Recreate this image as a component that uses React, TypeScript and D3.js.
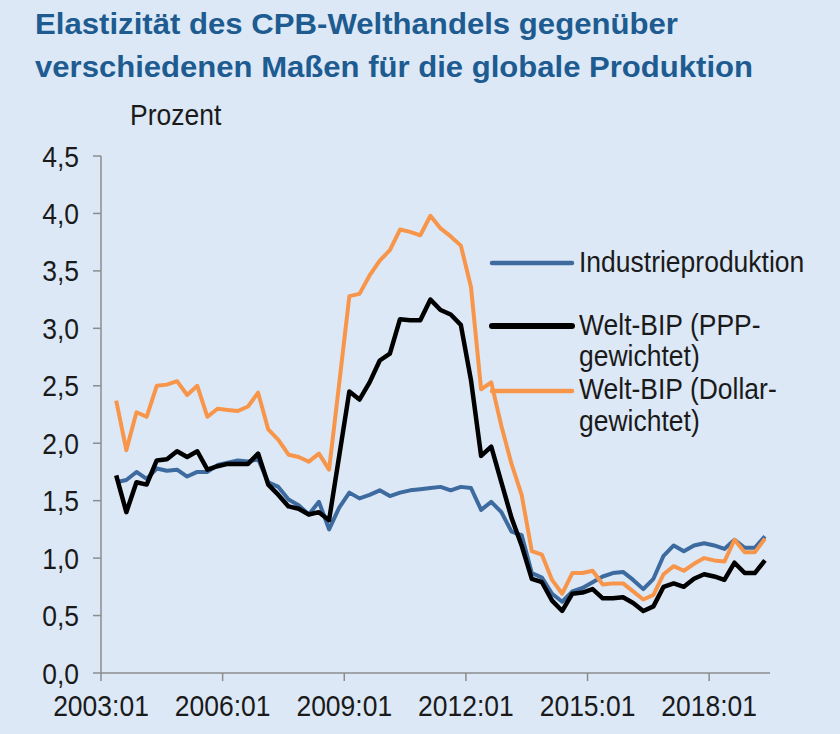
import React from "react";
import * as d3 from "d3";

const startYear = 2003;
const startQuarter = 2; // first observation: 2003 Q2
const industrie = [1.66, 1.68, 1.75, 1.69, 1.78, 1.76, 1.77, 1.71, 1.75, 1.75, 1.81, 1.83, 1.85, 1.84, 1.86, 1.66, 1.62, 1.51, 1.46, 1.38, 1.49, 1.25, 1.44, 1.57, 1.52, 1.55, 1.59, 1.54, 1.57, 1.59, 1.60, 1.61, 1.62, 1.59, 1.62, 1.61, 1.42, 1.49, 1.40, 1.23, 1.20, 0.87, 0.83, 0.69, 0.62, 0.71, 0.74, 0.79, 0.84, 0.87, 0.88, 0.81, 0.73, 0.82, 1.02, 1.11, 1.06, 1.11, 1.13, 1.11, 1.08, 1.16, 1.09, 1.09, 1.19];
const bipPPP = [1.72, 1.40, 1.66, 1.64, 1.85, 1.86, 1.93, 1.88, 1.93, 1.77, 1.80, 1.82, 1.82, 1.82, 1.91, 1.64, 1.55, 1.45, 1.43, 1.38, 1.40, 1.33, 1.89, 2.45, 2.38, 2.53, 2.72, 2.78, 3.08, 3.07, 3.07, 3.25, 3.16, 3.12, 3.03, 2.55, 1.89, 1.97, 1.66, 1.35, 1.11, 0.82, 0.79, 0.63, 0.54, 0.69, 0.70, 0.73, 0.65, 0.65, 0.66, 0.61, 0.54, 0.58, 0.75, 0.78, 0.75, 0.82, 0.86, 0.84, 0.81, 0.96, 0.87, 0.87, 0.98];
const bipDollar = [2.37, 1.94, 2.27, 2.23, 2.50, 2.51, 2.54, 2.42, 2.50, 2.23, 2.30, 2.29, 2.28, 2.32, 2.44, 2.12, 2.03, 1.90, 1.88, 1.84, 1.91, 1.77, 2.52, 3.28, 3.30, 3.46, 3.59, 3.68, 3.86, 3.84, 3.81, 3.98, 3.87, 3.80, 3.72, 3.36, 2.47, 2.53, 2.15, 1.82, 1.55, 1.06, 1.03, 0.81, 0.69, 0.87, 0.87, 0.89, 0.77, 0.78, 0.78, 0.71, 0.64, 0.68, 0.86, 0.93, 0.89, 0.95, 1.00, 0.98, 0.97, 1.16, 1.05, 1.05, 1.17];
const xTickYears = [2003, 2006, 2009, 2012, 2015, 2018];
const xTickLabels = ["2003:01", "2006:01", "2009:01", "2012:01", "2015:01", "2018:01"];
const yTicks = [0, 0.5, 1, 1.5, 2, 2.5, 3, 3.5, 4, 4.5];
const titleLines = ["Elastizität des CPB-Welthandels gegenüber", "verschiedenen Maßen für die globale Produktion"];
const unitLabel = "Prozent";
const seriesNames = ["Industrieproduktion", "Welt-BIP (PPP-|gewichtet)", "Welt-BIP (Dollar-|gewichtet)"];

const W = 840, H = 734;
const BG = "#dce8f6";
const FONT = "'Liberation Sans', Arial, sans-serif";
const FS = 26.5;
const VS = 1.12;

function T({ x, y, children, anchor = "start", size = FS, weight = "normal", fill = "#1a1a1a", len, vs = VS }: any) {
  return (
    <text
      transform={`translate(${x},${y}) scale(1,${vs})`}
      textAnchor={anchor}
      fontSize={size}
      fontWeight={weight}
      fontFamily={FONT}
      fill={fill}
      {...(len ? { textLength: len, lengthAdjust: "spacingAndGlyphs" } : {})}
    >
      {children}
    </text>
  );
}

export default function App() {
  const x = d3.scaleLinear().domain([2003, 2019.5]).range([101, 770]);
  const y = d3.scaleLinear().domain([0, 4.5]).range([673, 156]);
  const tOf = (i: number) => startYear + (startQuarter - 1) * 0.25 + 0.125 + i * 0.25;
  const line = d3
    .line<number>()
    .x((_, i) => x(tOf(i)))
    .y((d) => y(d));
  const fmt = (v: number) => d3.format(".1f")(v).replace(".", ",");

  const series = [
    { data: industrie, color: "#3d6a9f", w: 4 },
    { data: bipPPP, color: "#000000", w: 4.5 },
    { data: bipDollar, color: "#f7964a", w: 4 },
  ];
  const legendY = [263, 326, 391];
  const legendBase = [[272], [335, 366], [399, 431]];

  return (
    <svg width={W} height={H} style={{ position: "absolute", left: 0, top: 0, background: BG }}>
      <rect x={0} y={0} width={W} height={H} fill={BG} />
      <T x={35} y={34} size={30.5} vs={0.96} weight="bold" fill="#1d5b90" len={643}>{titleLines[0]}</T>
      <T x={35} y={77} size={30.5} vs={0.96} weight="bold" fill="#1d5b90" len={718}>{titleLines[1]}</T>
      <T x={130} y={125}>{unitLabel}</T>

      {/* y axis */}
      <line x1={101} x2={101} y1={y(4.5)} y2={y(0)} stroke="#8c8c8c" strokeWidth={1.5} />
      {yTicks.map((v) => (
        <g key={v}>
          <line x1={93} x2={101} y1={y(v)} y2={y(v)} stroke="#8c8c8c" strokeWidth={1.5} />
          <T x={79} y={y(v) + 10.5} anchor="end">{fmt(v)}</T>
        </g>
      ))}
      {/* x axis */}
      <line x1={101} x2={770} y1={y(0)} y2={y(0)} stroke="#8c8c8c" strokeWidth={1.5} />
      {xTickYears.map((yr, i) => (
        <g key={yr}>
          <line x1={x(yr)} x2={x(yr)} y1={y(0)} y2={y(0) + 8} stroke="#8c8c8c" strokeWidth={1.5} />
          <T x={x(yr)} y={716} anchor="middle">{xTickLabels[i]}</T>
        </g>
      ))}

      {series.map((s, k) => (
        <path key={k} d={line(s.data) || ""} fill="none" stroke={s.color} strokeWidth={s.w} strokeLinejoin="round" />
      ))}

      {series.map((s, k) => (
        <g key={"l" + k}>
          <line x1={492} x2={572} y1={legendY[k]} y2={legendY[k]} stroke={s.color} strokeWidth={k === 1 ? 6 : 4.5} strokeLinecap="round" />
          {seriesNames[k].split("|").map((txt, j) => (
            <T key={j} x={579} y={legendBase[k][j]}>{txt}</T>
          ))}
        </g>
      ))}
    </svg>
  );
}
